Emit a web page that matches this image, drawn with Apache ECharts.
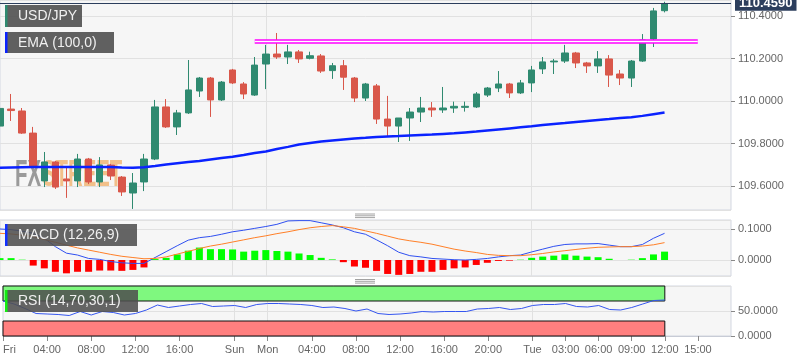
<!DOCTYPE html>
<html><head><meta charset="utf-8">
<script src="https://cdn.jsdelivr.net/npm/echarts@6/dist/echarts.min.js"></script>
<style>html,body{margin:0;padding:0;background:#fff}#c{width:808px;height:363px}</style>
</head><body><div id="c"></div>
<script>
// ---- categories: hourly slots (weekend collapsed) ----
const daySegments = [['Fri',0,20],['Sun',21,23],['Mon',0,23],['Tue',0,18]];
const categories = [];
daySegments.forEach(([d,a,b]) => { for (let h=a; h<=b; h++) categories.push(d+' '+String(h).padStart(2,'0')+':00'); });

const tickIdx  = [0,4,8,12,16,21,24,28,32,36,40,44,48,51,54,57,60,63];
const tickText = ['Fri','04:00','08:00','12:00','16:00','Sun','Mon','04:00','08:00','12:00','16:00','20:00','Tue','03:00','06:00','09:00','12:00','15:00'];
const dayIdx = [21,24,48];

// ---- price candles ----
const opens = [109.882,109.962,109.953,109.849,109.624,109.713,109.633,109.624,109.727,109.619,
109.699,109.642,109.567,109.619,109.727,109.972,109.878,109.944,110.047,110.108,
110.005,110.146,110.080,110.028,110.174,110.221,110.207,110.231,110.201,110.212,
110.143,110.166,110.108,110.014,110.071,109.915,109.882,109.920,109.948,109.967,
109.958,109.967,109.970,109.972,110.028,110.061,110.080,110.038,110.085,110.151,
110.184,110.188,110.226,110.179,110.165,110.198,110.127,110.108,110.188,110.292,110.425];
const closes = [109.965,109.955,109.849,109.694,109.713,109.595,109.624,109.727,109.619,109.699,
109.647,109.572,109.614,109.727,109.972,109.878,109.944,110.052,110.108,110.005,
110.089,110.085,110.033,110.169,110.221,110.207,110.231,110.198,110.213,110.141,
110.166,110.112,110.014,110.080,109.915,109.882,109.920,109.948,109.967,109.958,
109.967,109.975,109.975,110.033,110.061,110.080,110.038,110.085,110.146,110.184,
110.188,110.226,110.179,110.165,110.198,110.122,110.108,110.188,110.287,110.424,110.459];
const lows = [109.802,109.906,109.845,109.685,109.595,109.586,109.544,109.595,109.609,109.595,
109.628,109.553,109.492,109.576,109.722,109.873,109.840,109.939,110.019,109.925,
110.000,110.080,110.009,110.024,110.056,110.198,110.174,110.179,110.196,110.132,
110.104,110.052,109.995,110.000,109.892,109.835,109.807,109.812,109.901,109.925,
109.944,109.944,109.950,109.967,110.019,110.042,110.014,110.033,110.042,110.127,
110.127,110.179,110.155,110.132,110.132,110.066,110.075,110.066,110.184,110.254,110.417];
const highs = [109.972,110.033,109.967,109.878,109.760,109.718,109.685,109.751,109.732,109.736,
109.704,109.647,109.661,109.751,110.005,110.009,109.958,110.193,110.113,110.113,
110.094,110.151,110.089,110.207,110.264,110.320,110.264,110.240,110.232,110.221,
110.179,110.193,110.113,110.085,110.080,110.024,109.920,109.967,110.019,109.995,
110.066,109.997,109.997,110.042,110.066,110.141,110.085,110.099,110.165,110.207,
110.198,110.264,110.231,110.184,110.235,110.216,110.146,110.193,110.315,110.438,110.467];

const ema100 = [109.686,109.687,109.688,109.689,109.689,109.689,109.689,109.689,109.689,109.689,
109.689,109.687,109.686,109.688,109.694,109.701,109.707,109.713,109.718,109.725,
109.732,109.738,109.746,109.755,109.762,109.774,109.784,109.795,109.802,109.809,
109.814,109.819,109.824,109.827,109.831,109.833,109.835,109.838,109.840,109.842,
109.845,109.848,109.852,109.856,109.861,109.866,109.871,109.876,109.881,109.887,
109.892,109.896,109.901,109.906,109.911,109.915,109.920,109.924,109.930,109.938,109.946];

// resistance line (start index, end index, level)
const resStart = 23, resEnd = 63, resLevel = 110.28;
const lastPrice = 110.459;

// ---- MACD ----
const macdHist = [0.006,0.006,0.001,-0.018,-0.027,-0.038,-0.043,-0.038,-0.038,-0.034,
-0.034,-0.035,-0.032,-0.024,0.003,0.007,0.018,0.030,0.040,0.035,
0.035,0.034,0.027,0.030,0.032,0.029,0.027,0.021,0.016,0.007,
0.002,-0.007,-0.021,-0.025,-0.035,-0.045,-0.048,-0.045,-0.038,-0.038,
-0.032,-0.027,-0.024,-0.016,-0.009,-0.003,-0.002,0.001,0.007,0.011,
0.014,0.018,0.014,0.011,0.009,0.004,0.000,0.001,0.006,0.018,0.027];
const macdLine = [0.100,0.098,0.093,0.086,0.070,0.043,0.022,0.016,0.005,0.002,
-0.005,-0.009,-0.011,-0.011,0.008,0.027,0.046,0.064,0.072,0.076,
0.083,0.091,0.096,0.102,0.108,0.115,0.126,0.127,0.127,0.120,
0.113,0.104,0.091,0.083,0.065,0.046,0.025,0.014,0.010,0.005,
0.003,0.001,0.000,0.002,0.005,0.010,0.014,0.016,0.026,0.035,
0.044,0.050,0.052,0.052,0.053,0.048,0.043,0.043,0.050,0.070,0.086];
const signalLine = [0.086,0.084,0.080,0.075,0.066,0.057,0.048,0.039,0.032,0.025,
0.018,0.012,0.008,0.004,0.005,0.010,0.019,0.028,0.037,0.045,
0.051,0.058,0.065,0.072,0.078,0.085,0.091,0.098,0.104,0.108,
0.111,0.107,0.102,0.094,0.086,0.077,0.068,0.062,0.057,0.051,
0.043,0.035,0.029,0.024,0.018,0.015,0.014,0.014,0.017,0.021,
0.026,0.030,0.034,0.038,0.041,0.042,0.043,0.043,0.045,0.049,0.056];

// ---- RSI ----
const rsi = [70,64,55,45,44,43,41,49,42,49,
47,42,45,52,62,57,60,63,65,59,
60,61,57,63,65,65,64,63,61,57,
58,55,50,54,45,43,44,46,49,48,
49,49,49,54,55,57,53,55,61,63,
63,65,59,58,61,53,52,57,64,71,72];
const rsiUpper = 70, rsiLower = 30;

// ---------------------------------------------------------
const GREEN = '#2f8a70', RED = '#d9574a';
const FONT = 'Arial, "Liberation Sans", sans-serif';
const chart = echarts.init(document.getElementById('c'), null, {renderer:'canvas'});

const gridBase = {left:0, right:77, show:true, backgroundColor:'#f6f6f6', borderColor:'#d3d7e1', borderWidth:1};
function xAx(i, showLabels){
  return {
    type:'category', gridIndex:i, data:categories, boundaryGap:false,
    axisLine:{show:showLabels, lineStyle:{color:'#c8ccd6'}},
    axisTick:{show:showLabels, interval:(idx)=>tickIdx.includes(idx), length:5, lineStyle:{color:'#888'}},
    axisLabel:{show:showLabels, interval:(idx)=>tickIdx.includes(idx),
      formatter:(v,idx)=>{const k=tickIdx.indexOf(idx); return k>=0?tickText[k]:'';},
      color:'#666', fontSize:11, fontFamily:FONT, margin:8, alignMinLabel:'left'},
    splitLine:{show:true, interval:(idx)=>dayIdx.includes(idx), lineStyle:{color:'#e1e1e1'}}
  };
}
function yAx(i, min, max, extra){
  return Object.assign({
    type:'value', gridIndex:i, position:'right', min:min, max:max,
    axisLine:{show:false},
    axisTick:{show:true, length:4, lineStyle:{color:'#888'}},
    axisLabel:{formatter:(v)=>v.toFixed(4), color:'#666', fontSize:11, fontFamily:FONT, margin:7, showMinLabel:false, showMaxLabel:false},
    splitLine:{show:true, lineStyle:{color:'#e1e1e1'}}
  }, extra);
}

const option = {
  animation:false,
  backgroundColor:'#ffffff',
  grid:[
    Object.assign({top:0, height:210}, gridBase),
    Object.assign({top:220, height:56}, gridBase),
    Object.assign({top:286, height:50}, gridBase)
  ],
  xAxis:[xAx(0,false), xAx(1,false), xAx(2,true)],
  yAxis:[
    yAx(0, 109.487, 110.4753, {splitNumber:5}),
    yAx(1, -0.0516, 0.129, {splitNumber:2}),
    yAx(2, 0, 100, {interval:50, axisLabel:{formatter:(v)=>v.toFixed(4), color:'#666', fontSize:11, fontFamily:FONT, margin:7, showMinLabel:true, showMaxLabel:false}})
  ],
  series:[
    {
      type:'candlestick', name:'USD/JPY', xAxisIndex:0, yAxisIndex:0, barWidth:7,
      data: opens.map((o,i)=>[o, closes[i], lows[i], highs[i]]),
      itemStyle:{color:GREEN, color0:RED, borderColor:GREEN, borderColor0:RED, borderWidth:1},
      markLine:{
        silent:true, symbol:'none', z:10,
        lineStyle:{color:'#2c3e5d', width:1.2, type:'solid'},
        label:{position:'end', formatter:lastPrice.toFixed(4), backgroundColor:'#2c3e5d', color:'#fff',
               fontWeight:'bold', fontSize:13, fontFamily:FONT, padding:[1,4,1,4], distance:4},
        data:[{yAxis:lastPrice}]
      }
    },
    {
      type:'line', name:'EMA (100,0)', xAxisIndex:0, yAxisIndex:0, data:ema100,
      symbol:'none', lineStyle:{color:'#0a22ff', width:2.5}, z:4
    },
    {
      type:'line', xAxisIndex:0, yAxisIndex:0, data:[[resStart,resLevel],[resEnd,resLevel]],
      symbol:'none', lineStyle:{color:'#ff00ff', width:4.5, cap:'butt'}, z:5
    },
    {
      type:'line', xAxisIndex:0, yAxisIndex:0, data:[[resStart,resLevel],[resEnd,resLevel]],
      symbol:'none', lineStyle:{color:'#ffffff', width:1.4, cap:'butt'}, z:6
    },
    {
      type:'bar', xAxisIndex:1, yAxisIndex:1, data:macdHist, barWidth:7,
      itemStyle:{color:(p)=> p.value>=0 ? '#00ff00' : '#ff0000'}
    },
    {
      type:'line', xAxisIndex:1, yAxisIndex:1, data:macdLine, symbol:'none',
      lineStyle:{color:'#2f4ff0', width:1}, z:4
    },
    {
      type:'line', xAxisIndex:1, yAxisIndex:1, data:signalLine, symbol:'none',
      lineStyle:{color:'#ff7f27', width:1}, z:4
    },
    {
      type:'line', xAxisIndex:2, yAxisIndex:2, data:rsi, symbol:'none',
      lineStyle:{color:'#3556f0', width:1}, z:4,
      markArea:{
        silent:true,
        data:[
          [{xAxis:categories[0], yAxis:rsiUpper, itemStyle:{color:'#7ff87f', borderColor:'#111', borderWidth:1}},
           {xAxis:categories[60], yAxis:100}],
          [{xAxis:categories[0], yAxis:0, itemStyle:{color:'#ff7f7f', borderColor:'#111', borderWidth:1}},
           {xAxis:categories[60], yAxis:rsiLower}]
        ]
      }
    }
  ],
  graphic:[
    // watermark
    {type:'group', x:15, y:176, scaleX:0.55, z:1, silent:true, children:[
      {type:'text', x:0, y:0, style:{text:'FX', fontSize:37, fontWeight:'bold', fontFamily:'"Liberation Sans", Arial', fill:'#8a8a8a', opacity:0.85, verticalAlign:'middle'}},
      {type:'text', x:49, y:0, style:{text:'STREET', fontSize:37, fontWeight:'bold', fontFamily:'"Liberation Sans", Arial', fill:'#f0ad66', opacity:0.75, verticalAlign:'middle'}}
    ]},
    // legend boxes
    {type:'rect', shape:{x:5,y:5,width:77,height:22}, style:{fill:'rgba(80,80,80,0.9)'}, z:100},
    {type:'rect', shape:{x:5,y:5,width:2.5,height:22}, style:{fill:'#2f8a70'}, z:101},
    {type:'text', x:18, y:16.5, style:{text:'USD/JPY', fill:'#f0f0f0', fontSize:14, fontFamily:FONT, verticalAlign:'middle'}, z:101},

    {type:'rect', shape:{x:5,y:32,width:109,height:21}, style:{fill:'rgba(80,80,80,0.9)'}, z:100},
    {type:'rect', shape:{x:5,y:32,width:2.5,height:21}, style:{fill:'#0a22ff'}, z:101},
    {type:'text', x:18, y:43, style:{text:'EMA (100,0)', fill:'#f0f0f0', fontSize:14, fontFamily:FONT, verticalAlign:'middle'}, z:101},

    {type:'rect', shape:{x:5,y:224,width:132,height:22}, style:{fill:'rgba(80,80,80,0.88)'}, z:100},
    {type:'rect', shape:{x:5,y:224,width:2.5,height:22}, style:{fill:'#1030ff'}, z:101},
    {type:'text', x:18, y:235.5, style:{text:'MACD (12,26,9)', fill:'#f0f0f0', fontSize:14, fontFamily:FONT, verticalAlign:'middle'}, z:101},

    {type:'rect', shape:{x:5,y:290,width:133,height:22}, style:{fill:'rgba(80,80,80,0.88)'}, z:100},
    {type:'rect', shape:{x:5,y:290,width:2.5,height:22}, style:{fill:'#11ee11'}, z:101},
    {type:'text', x:18, y:301.5, style:{text:'RSI (14,70,30,1)', fill:'#f0f0f0', fontSize:14, fontFamily:FONT, verticalAlign:'middle'}, z:101},

    // panel dividers
    {type:'line', shape:{x1:355,y1:214,x2:375,y2:214}, style:{stroke:'#8a8a8a', lineWidth:0.8}, z:50},
    {type:'line', shape:{x1:355,y1:215.8,x2:375,y2:215.8}, style:{stroke:'#8a8a8a', lineWidth:0.8}, z:50},
    {type:'line', shape:{x1:355,y1:217.6,x2:375,y2:217.6}, style:{stroke:'#8a8a8a', lineWidth:0.8}, z:50},
    {type:'line', shape:{x1:355,y1:279.5,x2:375,y2:279.5}, style:{stroke:'#8a8a8a', lineWidth:0.8}, z:50},
    {type:'line', shape:{x1:355,y1:281.3,x2:375,y2:281.3}, style:{stroke:'#8a8a8a', lineWidth:0.8}, z:50},
    {type:'line', shape:{x1:355,y1:283.1,x2:375,y2:283.1}, style:{stroke:'#8a8a8a', lineWidth:0.8}, z:50}
  ]
};
chart.setOption(option);
</script>
</body></html>
